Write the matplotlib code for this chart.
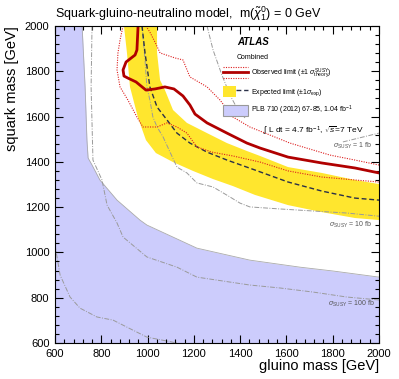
import numpy as np
import matplotlib
matplotlib.use("Agg")
import matplotlib.pyplot as plt
from matplotlib.lines import Line2D
from matplotlib.patches import Patch
from matplotlib.legend_handler import HandlerBase, HandlerTuple

plt.rcParams['font.family'] = ['Liberation Sans', 'DejaVu Sans']
plt.rcParams['mathtext.fontset'] = 'custom'
plt.rcParams['mathtext.rm'] = 'Liberation Sans'
plt.rcParams['mathtext.it'] = 'Liberation Sans:italic'
plt.rcParams['mathtext.bf'] = 'Liberation Sans:bold'

# --- data (gluino mass, squark mass) in GeV ---
# PLB 710 (2012) previous exclusion, boundary of the shaded region
plb_x = [600, 717, 730, 738, 743, 760, 794, 868, 967, 997, 1213, 1442, 1658, 1801, 2000]
plb_y = [2000, 2000, 1731, 1496, 1417, 1386, 1320, 1231, 1143, 1121, 1019, 966, 935, 918, 891]

# expected limit +-1 sigma band
exp_up_x = [1041, 1041, 1054, 1075, 1110, 1170, 1257, 1343, 1429, 1486, 1607, 1753, 1896, 2000]
exp_up_y = [2000, 1881, 1761, 1717, 1629, 1572, 1527, 1483, 1448, 1426, 1377, 1351, 1320, 1302]
exp_dn_x = [898, 911, 924, 959, 993, 1036, 1110, 1196, 1283, 1369, 1464, 1607, 1753, 1896, 2000]
exp_dn_y = [2000, 1881, 1731, 1594, 1496, 1439, 1399, 1360, 1324, 1293, 1254, 1209, 1178, 1152, 1143]

# expected limit
exp_x = [976, 989, 1010, 1041, 1084, 1127, 1183, 1257, 1343, 1464, 1607, 1753, 1896, 2000]
exp_y = [2000, 1881, 1731, 1642, 1585, 1527, 1483, 1443, 1408, 1364, 1311, 1271, 1240, 1231]

# observed limit
obs_x = [959, 954, 946, 907, 894, 898, 915, 950, 993, 1032, 1075, 1114, 1153, 1183, 1205,
         1257, 1343, 1429, 1486, 1607, 1753, 1896, 2000]
obs_y = [2000, 1894, 1872, 1841, 1806, 1779, 1770, 1753, 1717, 1722, 1731, 1722, 1691, 1651, 1611,
         1572, 1527, 1483, 1461, 1421, 1395, 1373, 1351]
obs_up_x = [993, 1010, 1032, 1054, 1118, 1153, 1183, 1257, 1313, 1369, 1442, 1486, 1615, 1788, 1896, 2000]
obs_up_y = [2000, 1973, 1929, 1881, 1859, 1850, 1775, 1731, 1673, 1598, 1554, 1536, 1483, 1430, 1408, 1386]
obs_dn_x = [894, 881, 872, 868, 881, 915, 954, 980, 1041, 1084, 1127, 1170, 1213, 1278, 1369,
            1486, 1607, 1753, 1896, 2000]
obs_dn_y = [2000, 1938, 1881, 1806, 1731, 1673, 1598, 1554, 1554, 1572, 1554, 1527, 1466, 1443, 1426,
            1399, 1360, 1333, 1320, 1311]

# cross-section contours (nan = hidden behind legend)
sig1_x = [1257, 1283, 1321, 1356, 1386, 1421, np.nan, 1844, 2000]
sig1_y = [2000, 1894, 1784, 1695, 1638, 1594, np.nan, 1488, 1527]
sig10_x = [976, 989, 997, 1010, 1023, 1041, 1067, 1097, 1127, 1170, 1213, 1283, 1356, 1399, 1442,
           1572, 1715, 1861, 2000]
sig10_y = [2000, 1850, 1731, 1673, 1598, 1554, 1510, 1443, 1377, 1351, 1307, 1289, 1245, 1218, 1201,
           1192, 1183, 1174, 1160]
sig100_x = [760, 756, 764, 803, 825, 868, 894, 997, 1127, 1213, 1442, 1572, 1715, 1861, 2000]
sig100_y = [2000, 1731, 1408, 1320, 1209, 1130, 1068, 980, 935, 891, 856, 843, 825, 803, 790]
sig1000_x = [600, 622, 665, 708, 781, 851, 911, 997, 1127]
sig1000_y = [1033, 900, 803, 754, 715, 701, 670, 626, 600]

sig_labels = [r'$\sigma_{\rm SUSY}$ = 1 fb', r'$\sigma_{\rm SUSY}$ = 10 fb', r'$\sigma_{\rm SUSY}$ = 100 fb']
sig_label_x = [1970, 1970, 1984]
sig_label_y = [1470, 1121, 774]

xticks = [600, 800, 1000, 1200, 1400, 1600, 1800, 2000]
yticks = [600, 800, 1000, 1200, 1400, 1600, 1800, 2000]

YELLOW = '#ffe62e'
BLUE = '#ccccfc'
RED = '#b00000'
RED_DOT = '#dd2020'
GRAY = '#9a9a9a'
DARK = '#2a3048'
DOTS = (1, 1.2)


class ObsHandler(HandlerBase):
    # three stacked lines: dotted / thick solid / dotted
    def create_artists(self, legend, orig_handle, xdescent, ydescent, width, height, fontsize, trans):
        arts = []
        for yy, solid, lw, c in [(height, False, 0.8, RED_DOT), (height / 2, True, 2.0, RED),
                                 (0, False, 0.8, RED_DOT)]:
            ln = Line2D([-xdescent, width - xdescent], [yy - ydescent, yy - ydescent],
                        lw=lw, color=c, transform=trans)
            if not solid:
                ln.set_dashes(DOTS)
            arts.append(ln)
        return arts


fig = plt.figure(figsize=(3.99, 3.79), dpi=100)
ax = fig.add_axes([55 / 399, 1 - 343 / 379, 324 / 399, 317 / 379])

ax.fill_between(plb_x, 600, plb_y, color=BLUE, lw=0, zorder=1)
ax.plot(plb_x[1:], plb_y[1:], color='#aaaaaa', lw=0.6, zorder=1.5)

ax.fill(exp_up_x + exp_dn_x[::-1], exp_up_y + exp_dn_y[::-1], color=YELLOW, lw=0, zorder=2)

for cx, cy in [(sig1_x, sig1_y), (sig10_x, sig10_y), (sig100_x, sig100_y), (sig1000_x, sig1000_y)]:
    ax.plot(cx, cy, color=GRAY, lw=0.7, dashes=(5, 1.5, 1, 1.5), zorder=3)

ax.plot(exp_x, exp_y, color=DARK, lw=1.0, dashes=(3.5, 2), zorder=4)
ax.plot(obs_up_x, obs_up_y, color=RED_DOT, lw=0.8, dashes=DOTS, zorder=5)
ax.plot(obs_dn_x, obs_dn_y, color=RED_DOT, lw=0.8, dashes=DOTS, zorder=5)
ax.plot(obs_x, obs_y, color=RED, lw=2.0, zorder=6)

for lab, lx, ly in zip(sig_labels, sig_label_x, sig_label_y):
    ax.text(lx, ly, lab, ha='right', va='center', fontsize=5, color='#555555', zorder=7)

ax.set_xlim(600, 2000)
ax.set_ylim(600, 2000)
ax.set_xticks(xticks)
ax.set_yticks(yticks)
ax.set_xticks(np.arange(600, 2001, 40), minor=True)
ax.set_yticks(np.arange(600, 2001, 40), minor=True)
ax.tick_params(which='both', direction='in', top=True, right=True, labelsize=8, width=0.8)
ax.tick_params(which='major', length=5.8, pad=4)
ax.tick_params(which='minor', length=2.9)
for sp in ax.spines.values():
    sp.set_linewidth(0.8)
    sp.set_zorder(10)

ax.set_xlabel('gluino mass [GeV]', loc='right', fontsize=10.5, labelpad=0)
ax.set_ylabel('squark mass [GeV]', loc='top', fontsize=10.5, labelpad=4)

fig.text(55 / 399, 1 - 14 / 379, r'Squark-gluino-neutralino model,  m($\tilde{\chi}^{0}_{1}$) = 0 GeV',
         fontsize=9, va='center', ha='left')

ax.text(1386, 1929, 'ATLAS', fontsize=7, fontweight='bold', style='italic', va='center', zorder=8)
ax.text(1386, 1862, 'Combined', fontsize=5, va='center', zorder=8)
ax.text(1498, 1536, r'$\int$ L dt = 4.7 fb$^{-1}$, $\sqrt{s}$=7 TeV', fontsize=6, va='center', zorder=8)

obs_h = Line2D([], [], color=RED)
exp_h = (Patch(facecolor=YELLOW, edgecolor='none'), Line2D([], [], color=DARK, lw=1.0, dashes=(3.5, 2)))
plb_h = Patch(facecolor=BLUE, edgecolor='#999999', lw=0.8)
leg = ax.legend([obs_h, exp_h, plb_h],
                [r'Observed limit ($\pm$1 $\sigma^{\rm SUSY}_{\rm theory}$)',
                 r'Expected limit ($\pm$1$\sigma_{\rm exp}$)',
                 r'PLB 710 (2012) 67-85, 1.04 fb$^{-1}$'],
                handler_map={obs_h: ObsHandler(), tuple: HandlerTuple(ndivide=None)},
                loc='upper left', bbox_to_anchor=((223 - 55) / 324, 1 - (66 - 26) / 317),
                frameon=False, fontsize=5, borderpad=0, borderaxespad=0,
                handlelength=3.6, handleheight=2.0, labelspacing=0.88, handletextpad=0.5)
leg.set_zorder(9)

fig.savefig('out.png', dpi=100)
